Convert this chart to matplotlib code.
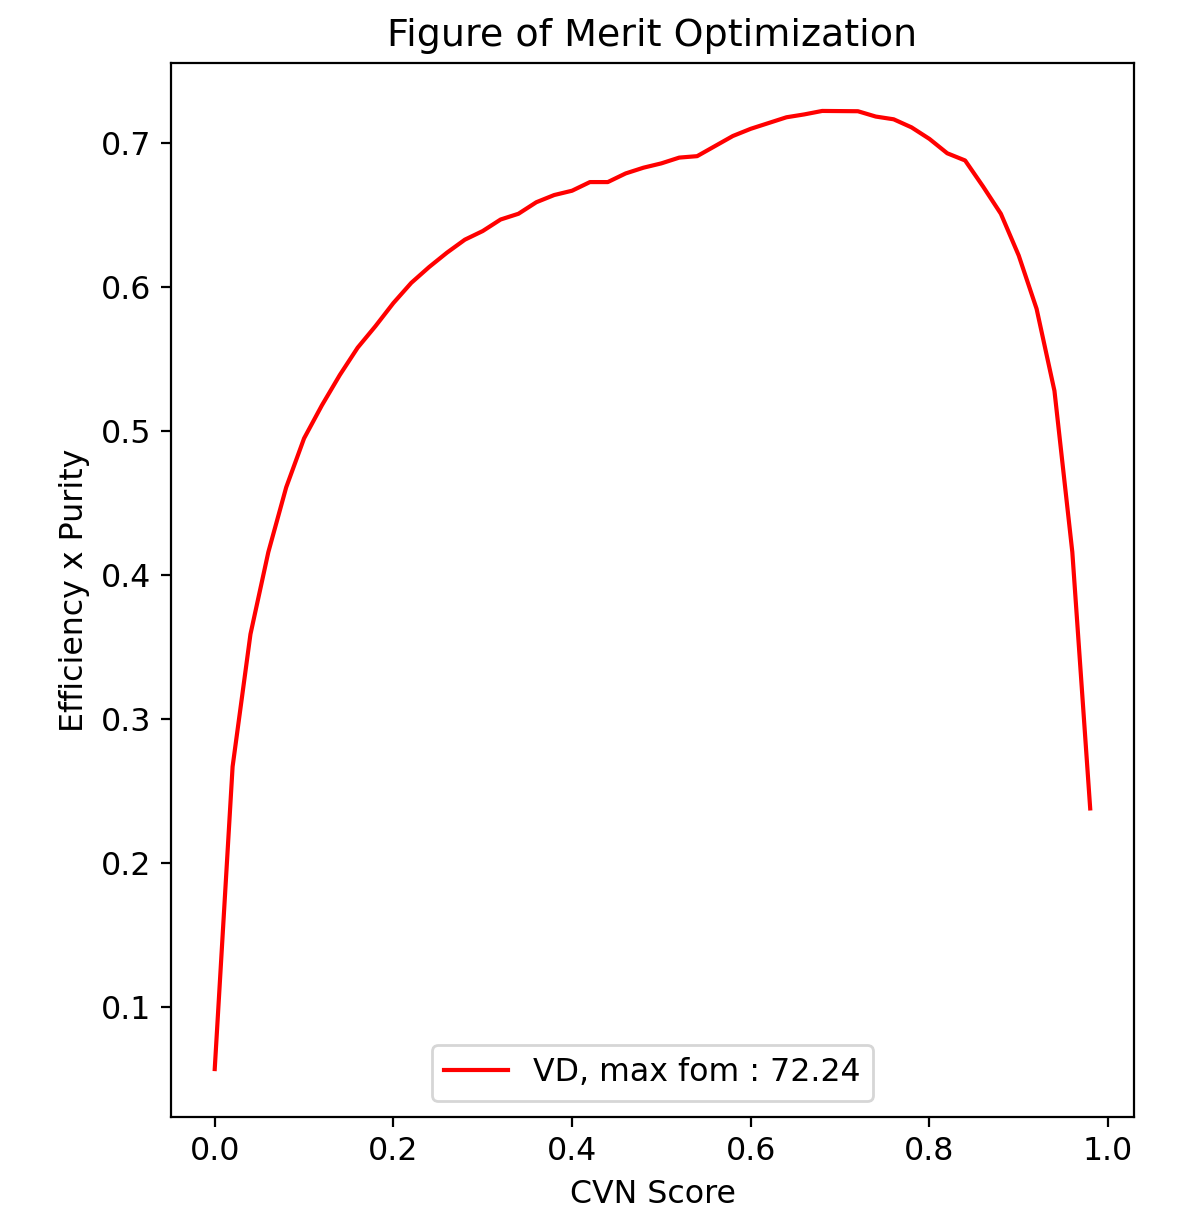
import matplotlib
matplotlib.use("Agg")
import matplotlib.pyplot as plt

plt.rcParams["font.size"] = 11.4

# CVN score cut values and resulting efficiency x purity
cvn_cut = [0.00, 0.02, 0.04, 0.06, 0.08, 0.10, 0.12, 0.14, 0.16, 0.18,
           0.20, 0.22, 0.24, 0.26, 0.28, 0.30, 0.32, 0.34, 0.36, 0.38,
           0.40, 0.42, 0.44, 0.46, 0.48, 0.50, 0.52, 0.54, 0.56, 0.58,
           0.60, 0.62, 0.64, 0.66, 0.68, 0.70, 0.72, 0.74, 0.76, 0.78,
           0.80, 0.82, 0.84, 0.86, 0.88, 0.90, 0.92, 0.94, 0.96, 0.98]
fom = [0.057, 0.267, 0.359, 0.416, 0.461, 0.495, 0.518, 0.539, 0.558, 0.573,
       0.589, 0.603, 0.614, 0.624, 0.633, 0.639, 0.647, 0.651, 0.659, 0.664,
       0.667, 0.673, 0.673, 0.679, 0.683, 0.686, 0.690, 0.691, 0.698, 0.705,
       0.710, 0.714, 0.718, 0.720, 0.7224, 0.7223, 0.7222, 0.7185, 0.7166, 0.711,
       0.703, 0.693, 0.688, 0.670, 0.651, 0.622, 0.585, 0.528, 0.416, 0.238]
max_fom = 72.24

fig = plt.figure(figsize=(5.895, 6.085), dpi=200)
ax = fig.add_axes([0.145, 0.0822, 0.8168, 0.866])

ax.plot(cvn_cut, fom, color="red", label=f"VD, max fom : {max_fom:.2f}")

ax.set_xlabel("CVN Score")
ax.set_ylabel("Efficiency x Purity")
ax.set_title("Figure of Merit Optimization")
ax.legend(loc="lower center")

fig.savefig("out.png", dpi=200)
